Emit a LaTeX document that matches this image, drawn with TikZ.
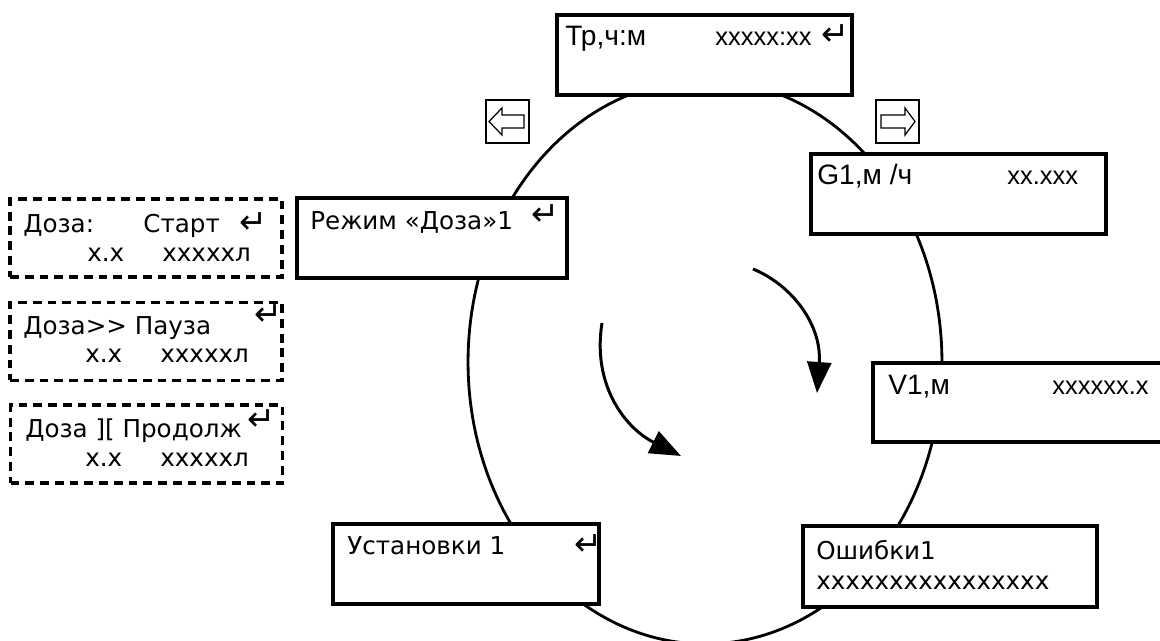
\documentclass[tikz,border=0pt]{standalone}
\usepackage{fontspec}
\setmainfont{DejaVu Sans}
\newfontfamily\arialfont{Liberation Sans}
\usetikzlibrary{arrows.meta}
\newcommand{\ret}{{\fontsize{19}{19}\selectfont ↵}}

\begin{document}
\begin{tikzpicture}[
x=0.02cm,y=-0.02cm,
screen/.style={draw,line width=1.9pt,fill=white,minimum height=1.6cm,inner sep=0},
dose/.style={draw,line width=1.9pt,dash pattern=on 5pt off 3.4pt,minimum width=5.44cm,minimum height=1.56cm,inner sep=0},
txt/.style={anchor=base west,inner sep=0,font=\fontsize{14}{17}\selectfont},
head/.style={anchor=base west,inner sep=0,font=\arialfont\fontsize{16}{19}\selectfont},
val/.style={anchor=base west,inner sep=0,font=\arialfont\fontsize{14.5}{17}\selectfont},
turn/.style={line width=1.7pt,-{Triangle[length=0.62cm,width=0.48cm]}},
key/.style={line width=0.7pt},
]
\useasboundingbox(0,0)rectangle(1160,641);

%menu ring
\draw[line width=1.6pt](705,362)ellipse[x radius=4.74cm,y radius=5.64cm];

%turn arrows
\coordinate(leftFrom)at(602,323);
\coordinate(leftTo)at(681,456);
\coordinate(rightFrom)at(753,269);
\coordinate(rightTo)at(817,393);
\draw[turn](leftFrom)..controls(592,385)and(625,428)..(leftTo);
\draw[turn](rightFrom)..controls(792,285)and(822,325)..(rightTo);

%keys
\draw[key](486,100)rectangle(529,143);
\draw[key](489,121.5)--(502,108)--(502,115)--(524,115)--(524,128)--(502,128)--(502,135)--cycle;
\draw[key](876,100)rectangle(919,143);
\draw[key](915,121.5)--(905,108)--(905,115)--(881,115)--(881,128)--(905,128)--(905,135)--cycle;

%operating time
\node[screen,minimum width=5.9cm](work)at(704.5,55){};
\node[head](workLbl)at(565,46){Тр,ч:м};
\node[val](workVal)at(715,46){xxxxx:xx};
\node[txt](workRet)at(821,46){\ret};

%flow
\node[screen,minimum width=5.9cm](flow)at(958.5,194){};
\node[head](flowLbl)at(817,185){G1,м /ч};
\node[val](flowVal)at(1007,185){xx.xxx};

%volume
\node[screen,minimum width=5.94cm,minimum height=1.58cm](vol)at(1021.5,402.5){};
\node[head](volLbl)at(888,395){V1,м};
\node[val](volVal)at(1052,395){xxxxxx.x};

%errors
\node[screen,minimum width=5.88cm,minimum height=1.62cm](err)at(950,566.5){};
\node[txt](errLbl)at(816,560){Ошибки1};
\node[txt](errVal)at(816,590){xxxxxxxxxxxxxxxx};

%settings
\node[screen,minimum width=5.32cm](set)at(466,564){};
\node[txt](setLbl)at(347,555){Установки 1};
\node[txt](setRet)at(574,556){\ret};

%dose mode
\node[screen,minimum width=5.4cm](mode)at(432,238){};
\node[txt](modeLbl)at(310,230){Режим «Доза»1};
\node[txt](modeRet)at(531,226){\ret};

%dose states
\node[dose](start)at(146,238){};
\node[txt](startLbl)at(23,233){Доза:};
\node[txt](startCmd)at(143,233){Старт};
\node[txt](startRet)at(239,234){\ret};
\node[txt](startRate)at(87,262){x.x};
\node[txt](startVol)at(162,262){xxxxxл};

\node[dose](pause)at(146,341.5){};
\node[txt](pauseLbl)at(23,335){Доза>{}> Пауза};
\node[txt](pauseRet)at(254,326){\ret};
\node[txt](pauseRate)at(85,363){x.x};
\node[txt](pauseVol)at(160,363){xxxxxл};

\node[dose](resume)at(146.5,444){};
\node[txt](resumeLbl)at(25,438){Доза ][ Продолж};
\node[txt](resumeRet)at(247,431){\ret};
\node[txt](resumeRate)at(85,467){x.x};
\node[txt](resumeVol)at(160,467){xxxxxл};

\end{tikzpicture}
\end{document}
